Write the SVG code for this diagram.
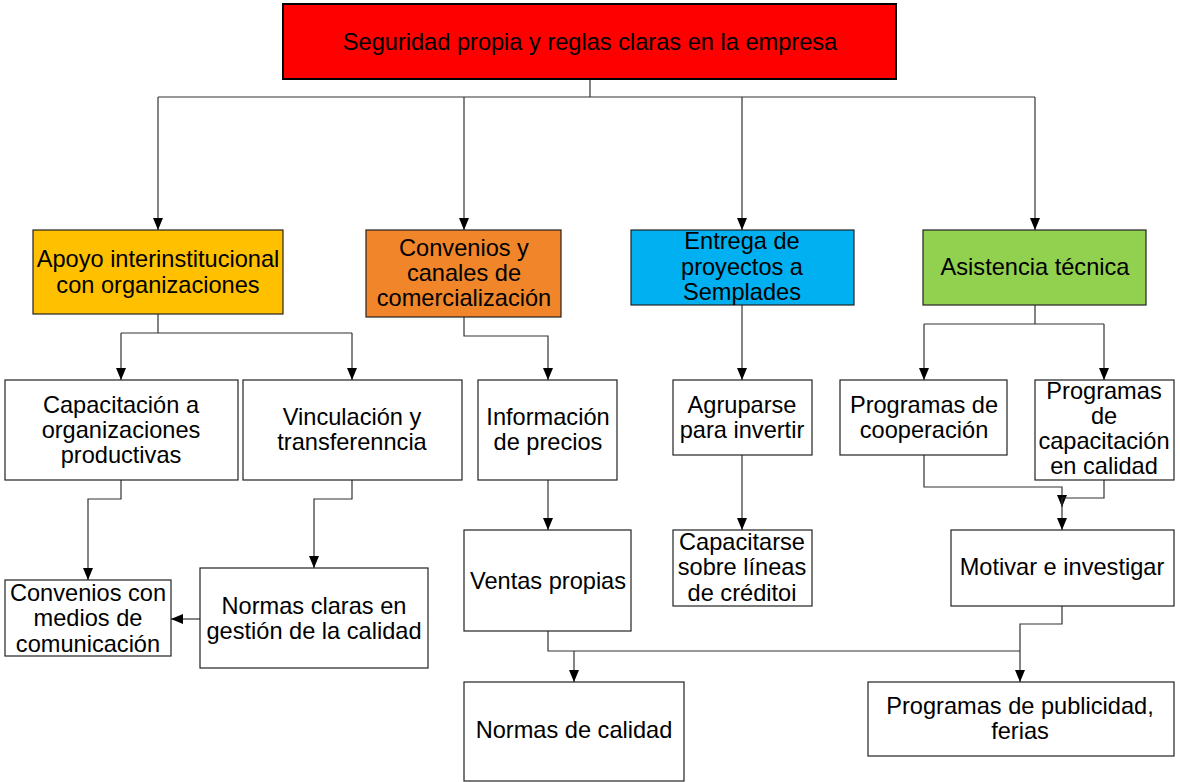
<svg xmlns="http://www.w3.org/2000/svg" width="1180" height="782" viewBox="0 0 1180 782">
<style>
.box{stroke:#222;stroke-width:1.2}
.w{fill:#fff}
.t{font-family:"Liberation Sans",Arial,sans-serif;font-size:23.6px;fill:#000;text-anchor:middle}
.c{fill:none;stroke:#333;stroke-width:1.2}
.a{marker-end:url(#ah)}
</style>
<defs>
<marker id="ah" viewBox="0 0 12 10" refX="12" refY="5" markerWidth="12" markerHeight="10" markerUnits="userSpaceOnUse" orient="auto">
<path d="M0,0 L12,5 L0,10 z" fill="#000"/>
</marker>
</defs>
<rect width="1180" height="782" fill="#fff"/>
<g id="connectors">
<path class="c" d="M590,79 V97 M158,97 H1035"/>
<path class="c a" d="M158,97 V230"/>
<path class="c a" d="M464,97 V230"/>
<path class="c a" d="M742,97 V230"/>
<path class="c a" d="M1035,97 V230"/>
<path class="c" d="M158,314 V333 M121,333 H352"/>
<path class="c a" d="M121,333 V380"/>
<path class="c a" d="M352,333 V380"/>
<path class="c a" d="M464,317 V336 H548 V380"/>
<path class="c a" d="M742,305 V380"/>
<path class="c" d="M1035,305 V324 M924,324 H1104"/>
<path class="c a" d="M924,324 V380"/>
<path class="c a" d="M1104,324 V380"/>
<path class="c a" d="M121,480 V499 H88 V580"/>
<path class="c a" d="M352,480 V499 H314 V568"/>
<path class="c a" d="M200,619 H171"/>
<path class="c a" d="M548,480 V530"/>
<path class="c a" d="M742,455 V530"/>
<path class="c a" d="M924,455 V487 H1062 V507"/>
<path class="c" d="M1104,480 V498 H1062"/>
<path class="c a" d="M1062,498 V530"/>
<path class="c a" d="M1062,606 V624 H1020 V682"/>
<path class="c" d="M548,631 V651 H1020"/>
<path class="c a" d="M574,651 V682"/>
</g>
<g id="n-root">
<rect x="283" y="4" width="613" height="75" fill="#FF0000" stroke="#000" stroke-width="2"/>
<text class="t" x="590" y="50">Seguridad propia y reglas claras en la empresa</text>
</g>
<g id="n-apoyo">
<rect class="box" x="33" y="230" width="250" height="84" fill="#FFC000"/>
<text class="t" x="158" y="267">Apoyo interinstitucional</text>
<text class="t" x="158" y="293">con organizaciones</text>
</g>
<g id="n-convenios">
<rect class="box" x="366" y="230" width="195" height="87" fill="#F0852A"/>
<text class="t" x="464" y="256">Convenios y</text>
<text class="t" x="464" y="281">canales de</text>
<text class="t" x="464" y="306">comercialización</text>
</g>
<g id="n-entrega">
<rect class="box" x="631" y="230" width="223" height="75" fill="#00B0F0"/>
<text class="t" x="742" y="249">Entrega de</text>
<text class="t" x="742" y="275">proyectos a</text>
<text class="t" x="742" y="300">Semplades</text>
</g>
<g id="n-asistencia">
<rect class="box" x="923" y="230" width="223" height="75" fill="#92D050"/>
<text class="t" x="1035" y="275">Asistencia técnica</text>
</g>
<g id="n-capacitacion">
<rect class="box w" x="5" y="380" width="233" height="100"/>
<text class="t" x="121" y="413">Capacitación a</text>
<text class="t" x="121" y="438">organizaciones</text>
<text class="t" x="121" y="463">productivas</text>
</g>
<g id="n-vinculacion">
<rect class="box w" x="243" y="380" width="219" height="100"/>
<text class="t" x="352" y="425">Vinculación y</text>
<text class="t" x="352" y="450">transferenncia</text>
</g>
<g id="n-informacion">
<rect class="box w" x="478" y="380" width="139" height="100"/>
<text class="t" x="548" y="425">Información</text>
<text class="t" x="548" y="450">de precios</text>
</g>
<g id="n-agruparse">
<rect class="box w" x="673" y="380" width="139" height="75"/>
<text class="t" x="742" y="413">Agruparse</text>
<text class="t" x="742" y="438">para invertir</text>
</g>
<g id="n-cooperacion">
<rect class="box w" x="840" y="380" width="167" height="75"/>
<text class="t" x="924" y="413">Programas de</text>
<text class="t" x="924" y="438">cooperación</text>
</g>
<g id="n-capcalidad">
<rect class="box w" x="1035" y="380" width="139" height="100"/>
<text class="t" x="1104" y="399">Programas</text>
<text class="t" x="1104" y="424">de</text>
<text class="t" x="1104" y="449">capacitación</text>
<text class="t" x="1104" y="474">en calidad</text>
</g>
<g id="n-medios">
<rect class="box w" x="5" y="580" width="166" height="76"/>
<text class="t" x="88" y="601">Convenios con</text>
<text class="t" x="88" y="626">medios de</text>
<text class="t" x="88" y="652">comunicación</text>
</g>
<g id="n-normasclaras">
<rect class="box w" x="200" y="568" width="228" height="100"/>
<text class="t" x="314" y="614">Normas claras en</text>
<text class="t" x="314" y="639">gestión de la calidad</text>
</g>
<g id="n-ventas">
<rect class="box w" x="464" y="530" width="167" height="101"/>
<text class="t" x="548" y="589">Ventas propias</text>
</g>
<g id="n-capacitarse">
<rect class="box w" x="673" y="530" width="139" height="76"/>
<text class="t" x="742" y="550">Capacitarse</text>
<text class="t" x="742" y="575">sobre líneas</text>
<text class="t" x="742" y="601">de créditoi</text>
</g>
<g id="n-motivar">
<rect class="box w" x="951" y="530" width="223" height="76"/>
<text class="t" x="1062" y="575">Motivar e investigar</text>
</g>
<g id="n-normascalidad">
<rect class="box w" x="464" y="682" width="220" height="99"/>
<text class="t" x="574" y="738">Normas de calidad</text>
</g>
<g id="n-publicidad">
<rect class="box w" x="868" y="682" width="306" height="74"/>
<text class="t" x="1020" y="714">Programas de publicidad,</text>
<text class="t" x="1020" y="739">ferias</text>
</g>
</svg>
